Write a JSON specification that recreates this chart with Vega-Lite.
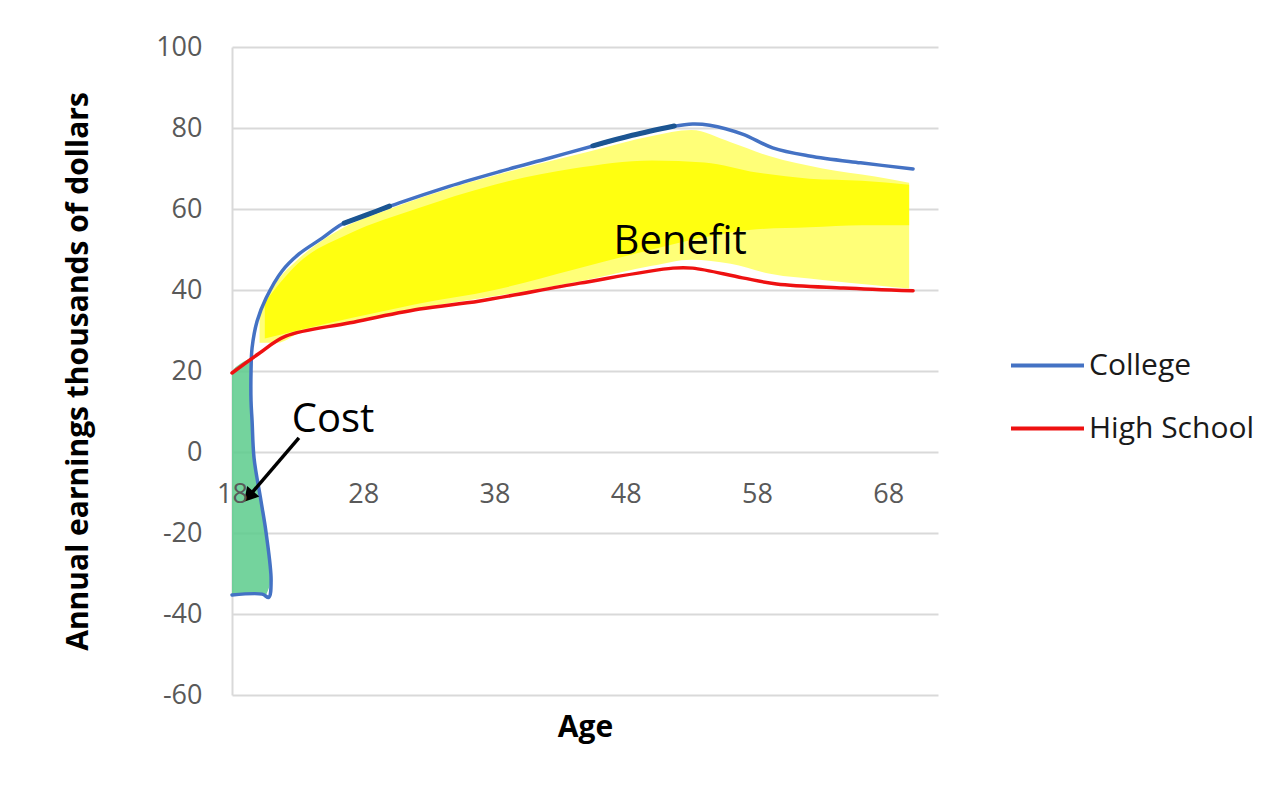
{
  "$schema": "https://vega.github.io/schema/vega-lite/v6.json",
  "width": 706,
  "height": 648,
  "autosize": {"type": "none"},
  "padding": {"left": 232, "top": 47, "right": 344, "bottom": 90},
  "background": "white",
  "config": {"view": {"stroke": null}, "font": "Open Sans"},
  "datasets": {
    "lines": [
      {"series": "College", "i": 0, "age": 18, "value": -35.3},
      {"series": "College", "i": 1, "age": 20.3, "value": -35.1},
      {"series": "College", "i": 2, "age": 20.8, "value": -35.9},
      {"series": "College", "i": 3, "age": 20.98, "value": -31.9},
      {"series": "College", "i": 4, "age": 20.6, "value": -20},
      {"series": "College", "i": 5, "age": 20.21, "value": -12.1},
      {"series": "College", "i": 6, "age": 19.68, "value": -1.5},
      {"series": "College", "i": 7, "age": 19.53, "value": 7.7},
      {"series": "College", "i": 8, "age": 19.45, "value": 12.6},
      {"series": "College", "i": 9, "age": 19.45, "value": 20.0},
      {"series": "College", "i": 10, "age": 19.53, "value": 25.7},
      {"series": "College", "i": 11, "age": 19.91, "value": 32.3},
      {"series": "College", "i": 12, "age": 20.6, "value": 38.0},
      {"series": "College", "i": 13, "age": 21.82, "value": 44.7},
      {"series": "College", "i": 14, "age": 23.11, "value": 48.9},
      {"series": "College", "i": 15, "age": 24.87, "value": 52.8},
      {"series": "College", "i": 16, "age": 26.4, "value": 56.3},
      {"series": "College", "i": 17, "age": 28.5, "value": 58.8},
      {"series": "College", "i": 18, "age": 30.75, "value": 61.5},
      {"series": "College", "i": 19, "age": 34.55, "value": 65.6},
      {"series": "College", "i": 20, "age": 38.35, "value": 69.2},
      {"series": "College", "i": 21, "age": 42.2, "value": 72.6},
      {"series": "College", "i": 22, "age": 46.0, "value": 76.0},
      {"series": "College", "i": 23, "age": 48.5, "value": 78.2},
      {"series": "College", "i": 24, "age": 51.6, "value": 80.4},
      {"series": "College", "i": 25, "age": 53.1, "value": 81.0},
      {"series": "College", "i": 26, "age": 54.4, "value": 80.7},
      {"series": "College", "i": 27, "age": 56.9, "value": 78.5},
      {"series": "College", "i": 28, "age": 59.2, "value": 75.1},
      {"series": "College", "i": 29, "age": 62.0, "value": 73.1},
      {"series": "College", "i": 30, "age": 65.9, "value": 71.4},
      {"series": "College", "i": 31, "age": 69.9, "value": 69.9},
      {"series": "High School", "i": 0, "age": 18, "value": 19.5},
      {"series": "High School", "i": 1, "age": 20, "value": 24.2},
      {"series": "High School", "i": 2, "age": 22.1, "value": 28.6},
      {"series": "High School", "i": 3, "age": 27, "value": 31.9},
      {"series": "High School", "i": 4, "age": 32.3, "value": 35.3},
      {"series": "High School", "i": 5, "age": 36.9, "value": 37.3},
      {"series": "High School", "i": 6, "age": 44.5, "value": 41.7},
      {"series": "High School", "i": 7, "age": 51.6, "value": 45.4},
      {"series": "High School", "i": 8, "age": 53.1, "value": 45.4},
      {"series": "High School", "i": 9, "age": 56.9, "value": 43.0},
      {"series": "High School", "i": 10, "age": 59.5, "value": 41.5},
      {"series": "High School", "i": 11, "age": 64.6, "value": 40.5},
      {"series": "High School", "i": 12, "age": 69.9, "value": 39.8}
    ],
    "yellowBase": [
      {"age": 20.1, "top": 35, "bottom": 27},
      {"age": 21.5, "top": 42.5, "bottom": 27},
      {"age": 23, "top": 47.5, "bottom": 29.2},
      {"age": 26, "top": 54.5, "bottom": 31.5},
      {"age": 30, "top": 60, "bottom": 34.2},
      {"age": 35, "top": 65.5, "bottom": 37},
      {"age": 40, "top": 70, "bottom": 39.5},
      {"age": 45, "top": 74, "bottom": 42.5},
      {"age": 50, "top": 78, "bottom": 46},
      {"age": 53, "top": 79.5, "bottom": 47.5},
      {"age": 56, "top": 76.5, "bottom": 46.5},
      {"age": 59, "top": 73, "bottom": 44},
      {"age": 63, "top": 70, "bottom": 42.5},
      {"age": 67, "top": 68, "bottom": 41.2},
      {"age": 69.6, "top": 66.5, "bottom": 40.4}
    ],
    "yellowCore": [
      {"age": 20.5, "top": 37, "bottom": 28},
      {"age": 23, "top": 46.5, "bottom": 30},
      {"age": 27, "top": 54, "bottom": 33},
      {"age": 32, "top": 60, "bottom": 36.5},
      {"age": 38, "top": 66, "bottom": 40},
      {"age": 44, "top": 70, "bottom": 45},
      {"age": 50, "top": 72, "bottom": 50},
      {"age": 54, "top": 71.5, "bottom": 53},
      {"age": 58, "top": 69, "bottom": 55},
      {"age": 62, "top": 67.5, "bottom": 55.5},
      {"age": 66, "top": 67, "bottom": 56},
      {"age": 69.6, "top": 66, "bottom": 56}
    ],
    "green": [
      {"value": -35.3, "right": 20.6, "left": 18},
      {"value": -32, "right": 20.9, "left": 18},
      {"value": -20, "right": 20.6, "left": 18},
      {"value": -12, "right": 20.2, "left": 18},
      {"value": -1.5, "right": 19.68, "left": 18},
      {"value": 7.7, "right": 19.53, "left": 18},
      {"value": 12.6, "right": 19.45, "left": 18},
      {"value": 19.5, "right": 19.45, "left": 18},
      {"value": 23.3, "right": 19.47, "left": 19.43}
    ],
    "darkseg": [
      {"seg": "a", "i": 0, "age": 26.55, "value": 56.5},
      {"seg": "a", "i": 1, "age": 28.3, "value": 58.6},
      {"seg": "a", "i": 2, "age": 30.0, "value": 60.7},
      {"seg": "b", "i": 0, "age": 45.5, "value": 75.6},
      {"seg": "b", "i": 1, "age": 48.5, "value": 78.2},
      {"seg": "b", "i": 2, "age": 51.7, "value": 80.5}
    ],
    "arrow": [
      {"ageFrom": 23.1, "valueFrom": 3.5, "ageTo": 19.27, "valueTo": -11.0}
    ],
    "labels": [
      {"label": "Benefit", "age": 52.15, "value": 51.9},
      {"label": "Cost", "age": 25.7, "value": 7.9}
    ]
  },
  "layer": [
    {
      "data": {"name": "yellowBase"},
      "mark": {"type": "area", "color": "#FFFF78", "interpolate": "monotone"},
      "encoding": {
        "x": {
          "field": "age", "type": "quantitative", "title": "Age",
          "scale": {"domain": [18, 71.8], "nice": false, "zero": false},
          "axis": {
            "values": [18, 28, 38, 48, 58, 68],
            "grid": false, "domain": false, "ticks": false, "tickSize": 0,
            "offset": -243, "labelPadding": 29, "labelFlush": false,
            "labelFontSize": 27, "labelColor": "#595959", "labelFont": "Open Sans",
            "title": "Age", "titleFont": "Open Sans", "titleFontSize": 30,
            "titleFontWeight": "bold", "titleColor": "#000000",
            "titleY": 275, "titleBaseline": "middle", "zindex": 1
          }
        },
        "y": {
          "field": "top", "type": "quantitative", "title": "Annual earnings thousands of dollars",
          "scale": {"domain": [-60, 100], "nice": false},
          "axis": {
            "values": [-60, -40, -20, 0, 20, 40, 60, 80, 100],
            "labelExpr": "'' + datum.value",
            "grid": true, "gridColor": "#d9d9d9", "gridWidth": 2,
            "domain": true, "domainColor": "#d9d9d9", "domainWidth": 2,
            "ticks": false, "tickSize": 0, "labelPadding": 30,
            "labelFontSize": 27, "labelColor": "#595959", "labelFont": "Open Sans",
            "title": "Annual earnings thousands of dollars", "titleFont": "Open Sans",
            "titleFontSize": 30, "titleFontWeight": "bold", "titleColor": "#000000",
            "titleX": -154, "titleBaseline": "middle"
          }
        },
        "y2": {"field": "bottom"}
      }
    },
    {
      "data": {"name": "yellowCore"},
      "mark": {"type": "area", "color": "#FFFF10", "interpolate": "monotone"},
      "encoding": {
        "x": {"field": "age", "type": "quantitative", "title": "Age"},
        "y": {"field": "top", "type": "quantitative", "title": "Annual earnings thousands of dollars"},
        "y2": {"field": "bottom"}
      }
    },
    {
      "data": {"name": "green"},
      "mark": {"type": "area", "orient": "horizontal", "color": "#5CCB8C", "opacity": 0.85, "interpolate": "monotone"},
      "encoding": {
        "y": {"field": "value", "type": "quantitative", "title": "Annual earnings thousands of dollars"},
        "x": {"field": "right", "type": "quantitative", "title": "Age"},
        "x2": {"field": "left"}
      }
    },
    {
      "data": {"name": "lines"},
      "mark": {"type": "line", "strokeWidth": 3.5, "interpolate": "catmull-rom", "strokeCap": "round"},
      "encoding": {
        "x": {"field": "age", "type": "quantitative", "title": "Age"},
        "y": {"field": "value", "type": "quantitative", "title": "Annual earnings thousands of dollars"},
        "order": {"field": "i", "type": "quantitative"},
        "color": {
          "field": "series", "type": "nominal",
          "scale": {"domain": ["College", "High School"], "range": ["#4472C4", "#EE1111"]},
          "legend": {
            "title": null, "orient": "none", "legendX": 777, "legendY": 280,
            "symbolType": "stroke", "symbolSize": 5329, "symbolStrokeWidth": 4,
            "labelFontSize": 30, "labelFont": "Open Sans", "labelColor": "#1a1a1a",
            "labelOffset": 3, "labelLimit": 400, "rowPadding": 9, "padding": 0
          }
        }
      }
    },
    {
      "data": {"name": "darkseg"},
      "mark": {"type": "line", "strokeWidth": 5, "color": "#1B5592", "interpolate": "catmull-rom", "strokeCap": "round"},
      "encoding": {
        "x": {"field": "age", "type": "quantitative", "title": "Age"},
        "y": {"field": "value", "type": "quantitative", "title": "Annual earnings thousands of dollars"},
        "detail": {"field": "seg", "type": "nominal"},
        "order": {"field": "i", "type": "quantitative"}
      }
    },
    {
      "data": {"name": "arrow"},
      "mark": {"type": "rule", "color": "#000000", "strokeWidth": 3.5},
      "encoding": {
        "x": {"field": "ageFrom", "type": "quantitative", "title": "Age"},
        "y": {"field": "valueFrom", "type": "quantitative", "title": "Annual earnings thousands of dollars"},
        "x2": {"field": "ageTo"},
        "y2": {"field": "valueTo"}
      }
    },
    {
      "data": {"name": "arrow"},
      "mark": {"type": "point", "shape": "triangle-up", "angle": 221, "filled": true, "color": "#000000", "opacity": 1, "size": 260},
      "encoding": {
        "x": {"field": "ageTo", "type": "quantitative", "title": "Age"},
        "y": {"field": "valueTo", "type": "quantitative", "title": "Annual earnings thousands of dollars"}
      }
    },
    {
      "data": {"name": "labels"},
      "mark": {"type": "text", "font": "Open Sans", "fontSize": 40, "color": "#000000", "align": "center", "baseline": "middle"},
      "encoding": {
        "x": {"field": "age", "type": "quantitative", "title": "Age"},
        "y": {"field": "value", "type": "quantitative", "title": "Annual earnings thousands of dollars"},
        "text": {"field": "label"}
      }
    }
  ]
}
